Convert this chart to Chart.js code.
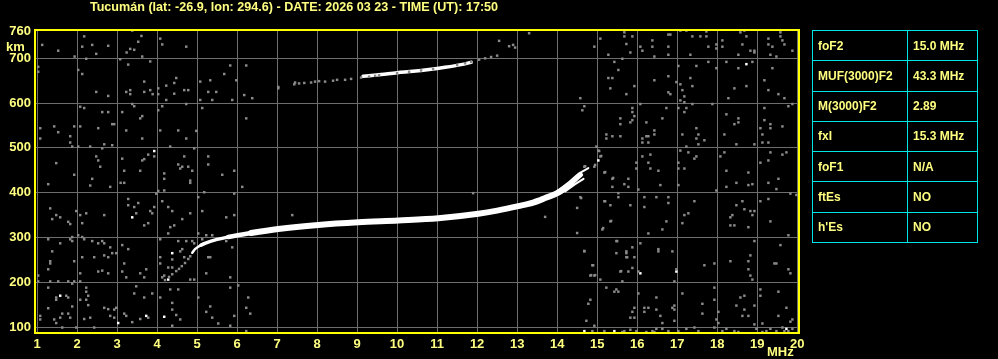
<!DOCTYPE html>
<html>
<head>
<meta charset="utf-8">
<script src="https://cdn.jsdelivr.net/npm/chart.js@4.4.1/dist/chart.umd.min.js"></script>
<style>
  body { margin: 0; background: #000; }
  #wrap { position: relative; width: 998px; height: 359px; overflow: hidden; }
  #params { position: absolute; left: 812px; top: 30px; width: 166px; height: 213px;
    border-collapse: collapse; font: bold 12px "Liberation Sans", Arial, sans-serif; color: #ffff80; }
  #params td { border: 1px solid #00e6e6; padding: 0 0 0 5px; white-space: nowrap; }
  #params td:first-child { width: 89px; }
</style>
</head>
<body>
<div id="wrap">
  <canvas id="ionogram" width="998" height="359"></canvas>
  <table id="params"></table>
</div>
<script>
const titleText = 'Tucumán (lat: -26.9, lon: 294.6) - DATE: 2026 03 23 - TIME (UT): 17:50';
const xTicks = [1, 2, 3, 4, 5, 6, 7, 8, 9, 10, 11, 12, 13, 14, 15, 16, 17, 18, 19, 20];
const yTicks = [100, 200, 300, 400, 500, 600, 700, 760];

const paramNames = ['foF2', 'MUF(3000)F2', 'M(3000)F2', 'fxI', 'foF1', 'ftEs', "h'Es"];
const paramValues = ['15.0 MHz', '43.3 MHz', '2.89', '15.3 MHz', 'N/A', 'NO', 'NO'];

// F2 trace (MHz, km)
const traceFreq = [4.88, 4.95, 5.1, 5.35, 5.78, 6.35, 7.03, 8.03, 9.03, 10.03, 11.03, 12.03, 12.5, 13.03, 13.4, 13.7, 14.03, 14.35, 14.6];
const traceHeight = [266, 274, 283, 292, 301, 310, 319, 328, 334, 338, 343, 353, 360, 370, 378, 388, 400, 420, 440];
const branchA = [[14.0, 404], [14.3, 424], [14.55, 443], [14.78, 455]];
const branchB = [[14.2, 403], [14.45, 419], [14.66, 431]];
const traceTail = [[4.2, 205], [4.3, 212], [4.38, 218], [4.48, 225], [4.55, 230], [4.62, 236], [4.7, 243], [4.78, 252], [4.83, 258]];

// second hop
const hopWhiteFreq = [9.15, 9.6, 10.0, 10.4, 10.8, 11.2, 11.6, 11.85];
const hopWhiteHeight = [660, 664, 668, 671, 675, 680, 686, 691];
const hopGray = [[7.03, 636], [7.45, 646], [7.55, 644], [7.68, 645], [7.85, 646], [7.95, 648], [8.05, 649], [8.2, 648],
  [8.4, 650], [8.5, 652], [8.7, 652], [8.85, 654], [9.1, 657], [9.3, 659], [9.45, 661], [9.55, 662], [10.0, 667],
  [10.3, 670], [10.6, 673], [10.9, 676], [11.5, 685], [11.7, 689], [11.85, 692], [12.05, 697], [12.2, 700],
  [12.35, 703], [12.5, 706], [12.55, 739], [12.8, 727], [12.9, 730], [12.95, 724], [13.3, 756]];

// background echoes
const noiseGray = [
  [2.18, 749], [1.13, 730], [1.53, 717], [2.13, 726], [2.38, 730], [2.78, 728], [2.48, 710], [1.94, 704], [2.23, 699],
  [3.38, 762], [3.61, 750], [3.53, 737], [3.43, 719], [3.33, 721], [3.24, 713], [3.63, 704], [4.08, 744], [4.13, 731],
  [4.73, 726], [3.08, 698], [3.28, 686], [3.83, 693], [1.03, 681], [1.03, 670], [2.03, 674], [2.13, 665], [2.48, 625],
  [2.78, 616], [3.23, 625], [3.33, 629], [3.33, 620], [3.68, 648], [3.68, 625], [3.83, 629], [3.89, 620], [4.03, 633],
  [4.03, 620], [4.23, 639], [4.43, 645], [4.48, 656], [4.43, 621], [4.68, 629], [4.78, 629], [5.08, 648], [5.33, 651],
  [5.68, 665], [5.83, 684], [6.23, 684], [5.98, 651], [5.28, 625], [5.48, 625], [5.08, 607], [5.38, 607], [5.88, 607],
  [6.18, 618], [6.38, 611], [7.03, 633], [7.43, 642], [4.23, 607], [3.38, 598], [3.43, 593], [4.03, 584], [4.13, 593],
  [4.73, 598], [5.13, 589], [2.08, 592], [2.18, 589], [2.63, 580], [2.78, 580], [3.13, 580], [3.63, 571], [3.58, 566],
  [6.23, 566], [1.08, 544], [1.43, 548], [1.53, 535], [1.93, 548], [2.08, 548], [2.53, 544], [2.88, 553], [2.93, 553],
  [3.23, 539], [4.08, 539], [4.53, 539], [4.98, 538], [1.83, 526], [1.83, 512], [1.08, 521], [3.63, 521], [4.73, 521],
  [1.88, 503], [2.03, 503], [2.33, 503], [2.63, 499], [2.68, 508], [2.88, 506], [4.33, 503], [4.93, 499], [3.93, 481],
  [3.78, 485], [3.68, 475], [3.63, 472], [2.48, 481], [2.53, 472], [3.13, 476], [2.58, 458], [1.48, 466], [1.93, 440],
  [2.38, 431], [3.18, 449], [3.58, 449], [4.18, 443], [4.18, 431], [4.53, 463], [4.68, 481], [4.58, 454], [4.63, 458],
  [4.78, 458], [4.88, 449], [5.28, 481], [5.28, 463], [5.63, 440], [5.93, 449], [4.83, 427],
  [1.28, 419], [2.33, 416], [2.83, 413], [3.09, 422], [3.18, 422], [4.83, 422], [4.03, 404], [4.18, 405], [5.18, 401],
  [6.13, 413], [1.33, 365], [1.48, 350], [1.58, 345], [1.38, 341], [1.78, 335], [1.83, 330], [1.98, 359], [2.08, 350],
  [2.23, 354], [2.13, 332], [2.68, 350], [3.28, 386], [3.28, 372], [3.43, 368], [3.48, 354], [3.53, 377], [3.68, 327],
  [3.78, 332], [3.83, 359], [3.88, 354], [3.93, 368], [3.98, 398], [4.13, 381], [4.28, 368], [4.38, 359], [4.43, 327],
  [4.33, 323], [4.28, 309], [4.63, 341], [4.83, 354], [5.13, 359], [5.03, 390], [5.93, 398], [5.73, 345], [5.93, 350],
  [2.03, 305], [1.88, 301], [2.13, 301], [2.18, 296], [1.28, 296], [1.58, 287], [1.83, 296], [1.88, 292], [2.38, 292],
  [2.53, 287], [2.63, 292], [2.68, 287], [2.83, 278], [2.88, 265], [1.38, 269], [1.33, 247], [1.33, 242], [1.93, 247],
  [2.13, 256], [2.43, 256], [2.68, 260], [2.78, 256], [2.98, 265], [3.13, 283], [3.28, 274], [3.18, 242], [1.03, 215],
  [1.28, 229], [2.08, 220], [2.53, 224], [2.63, 226], [2.78, 220], [3.13, 224], [3.23, 211], [3.58, 220], [3.68, 211],
  [3.73, 229], [4.13, 211], [4.38, 251], [4.08, 242], [4.08, 256], [4.08, 296], [4.53, 292], [4.58, 269], [4.63, 274],
  [4.68, 256], [4.73, 292], [4.88, 292], [4.93, 287], [5.13, 296], [5.23, 305], [5.38, 305], [5.03, 309], [5.28, 256],
  [5.33, 256], [5.23, 220], [5.83, 211], [5.88, 278], [5.73, 292], [4.18, 215], [4.38, 233], [4.28, 233], [4.83, 206],
  [4.93, 206], [1.03, 202], [1.33, 202], [1.53, 202], [1.78, 202], [1.88, 197], [1.93, 202], [2.08, 202], [2.23, 188],
  [2.23, 179], [2.23, 161], [2.28, 170], [2.28, 149], [2.08, 161], [1.88, 146], [1.78, 166], [1.73, 170], [1.48, 166],
  [1.48, 161], [1.28, 188], [1.08, 125], [1.08, 117], [1.28, 142], [1.43, 117], [1.58, 121], [1.63, 130], [1.48, 109],
  [1.63, 99], [1.78, 130], [1.83, 121], [1.98, 99], [2.18, 118], [2.33, 121], [2.43, 99], [2.68, 143], [2.78, 140],
  [2.83, 125], [2.93, 139], [2.93, 121], [2.98, 143], [3.18, 130], [3.23, 125], [3.38, 111], [3.43, 175], [3.48, 191],
  [3.68, 166], [3.88, 175], [4.08, 166], [4.33, 184], [4.38, 154], [4.38, 139], [4.48, 127], [4.53, 184], [4.38, 103],
  [4.58, 117], [3.58, 118], [3.78, 121], [5.03, 166], [5.23, 134], [5.33, 146], [5.38, 121], [5.53, 108], [5.83, 103],
  [5.93, 125], [6.03, 193], [5.83, 188], [6.28, 166], [6.23, 143], [6.33, 130], [6.23, 91], [7.38, 350],
  [11.9, 399], [13.7, 346], [14.5, 310], [14.5, 366], [14.6, 388], [14.7, 459], [14.95, 462], [15.1, 482], [15.15, 321],
  [15.2, 446], [15.35, 337], [15.2, 381], [15.4, 433], [15.53, 399], [15.5, 292], [14.68, 270], [14.9, 238], [14.85, 216],
  [14.95, 216], [15.6, 225], [15.75, 256], [15.05, 493],
  [15.68, 758], [15.68, 749], [15.88, 749], [15.08, 744], [14.93, 726], [15.73, 732], [15.83, 713], [15.28, 708],
  [16.08, 726], [16.13, 717], [16.38, 740], [16.38, 726], [16.78, 753], [16.83, 753], [16.78, 726], [16.78, 708],
  [16.43, 704], [17.08, 762], [17.23, 762], [17.38, 749], [17.58, 749], [17.73, 760], [17.73, 749], [17.78, 726],
  [17.33, 708], [17.98, 731], [17.98, 722], [18.13, 740], [18.13, 726], [18.58, 758], [18.68, 762], [18.73, 749],
  [18.63, 731], [18.53, 708], [18.83, 717], [18.93, 717], [18.93, 713], [19.28, 744], [19.28, 731], [19.38, 726],
  [19.58, 758], [19.58, 749], [19.63, 740], [19.68, 731], [19.88, 717], [19.33, 708], [19.48, 704], [15.43, 692],
  [15.63, 699], [15.53, 674], [15.28, 656], [15.38, 656], [15.33, 633], [15.73, 620], [15.93, 638], [16.43, 651],
  [16.78, 660], [16.98, 647], [17.03, 683], [17.08, 642], [17.13, 629], [17.08, 606], [16.78, 624], [16.83, 620],
  [17.18, 615], [17.18, 602], [17.33, 656], [17.38, 638], [17.48, 683], [17.78, 692], [17.98, 678], [18.23, 692],
  [18.53, 678], [18.88, 692], [18.73, 638], [18.43, 633], [18.28, 611], [19.18, 651], [19.28, 629], [19.53, 620],
  [19.68, 611], [19.38, 678], [14.58, 611], [14.63, 584], [14.68, 593], [15.88, 589], [15.88, 580], [15.93, 571],
  [15.58, 566], [15.58, 553], [15.88, 562], [15.83, 557], [16.23, 557], [16.63, 566], [16.73, 589], [16.08, 598],
  [17.03, 589], [17.23, 589], [17.18, 580], [17.38, 598], [17.88, 598], [18.23, 575], [18.53, 566], [18.53, 557],
  [18.43, 553], [19.18, 589], [19.18, 562], [19.33, 553], [19.33, 544], [19.63, 548], [19.78, 593], [19.88, 598],
  [15.23, 530], [15.23, 521], [15.38, 526], [15.58, 526], [16.13, 521], [16.13, 512], [16.23, 526], [16.28, 526],
  [16.43, 539], [16.43, 530], [16.28, 512], [17.13, 530], [17.48, 544], [17.48, 521], [17.53, 530], [17.53, 508],
  [17.68, 517], [18.18, 530], [18.48, 508], [19.08, 544], [19.13, 530], [19.13, 512], [19.28, 512], [18.93, 508],
  [14.98, 503], [15.03, 494], [15.08, 481], [14.68, 458], [14.93, 458], [15.18, 445], [15.38, 431], [15.78, 431],
  [15.98, 467], [15.98, 454], [16.13, 481], [16.33, 485], [16.28, 467], [16.33, 454], [16.53, 449], [17.03, 467],
  [17.03, 454], [17.18, 454], [17.08, 494], [17.23, 503], [17.28, 490], [17.43, 476], [17.48, 481], [18.08, 481],
  [18.18, 490], [18.23, 449], [18.78, 445], [19.08, 467], [19.28, 472], [19.33, 490], [19.63, 485], [19.73, 490],
  [19.53, 431],
  [15.68, 419], [15.78, 413], [15.38, 413], [16.03, 407], [16.58, 417], [17.03, 417], [17.98, 405], [18.23, 413],
  [18.48, 422], [18.78, 417], [18.88, 419], [19.28, 422], [19.48, 408], [14.58, 390], [15.18, 381], [15.33, 372],
  [15.53, 390], [15.83, 372], [16.18, 390], [16.18, 368], [16.48, 390], [16.78, 390], [16.78, 377], [17.43, 381],
  [17.18, 350], [17.28, 354], [17.13, 332], [16.73, 336], [16.63, 318], [16.28, 309], [15.33, 336], [15.13, 318],
  [18.48, 372], [18.63, 381], [18.68, 363], [18.83, 359], [18.88, 350], [18.93, 359], [18.38, 350], [18.33, 345],
  [18.33, 327], [18.43, 327], [18.78, 323], [19.08, 381], [19.28, 386], [19.33, 336], [19.78, 305], [19.98, 395],
  [19.83, 398], [14.68, 269], [14.88, 238], [14.83, 215], [14.93, 215], [15.08, 206], [15.48, 292], [15.48, 265],
  [15.73, 269], [15.73, 265], [15.73, 256], [15.88, 278], [15.93, 256], [15.88, 232], [15.78, 224], [15.58, 224],
  [15.63, 202], [16.08, 287], [16.03, 224], [16.53, 274], [16.53, 269], [16.88, 269], [16.98, 229], [16.93, 202],
  [17.68, 238], [17.93, 242], [18.33, 247], [18.78, 247], [18.78, 229], [18.83, 215], [18.88, 206], [18.83, 260],
  [18.93, 292], [19.43, 242], [19.48, 242], [19.58, 283], [19.78, 229], [19.83, 220], [15.23, 188], [15.43, 179],
  [15.48, 184], [15.53, 179], [14.83, 161], [14.78, 152], [16.03, 175], [15.93, 143], [15.88, 134], [15.83, 121],
  [15.93, 121], [16.18, 143], [16.18, 134], [16.28, 143], [16.48, 166], [16.48, 139], [16.58, 125], [16.88, 143],
  [16.93, 148], [16.93, 139], [17.13, 175], [17.23, 96], [17.63, 152], [17.63, 130], [17.93, 188], [17.93, 161],
  [18.03, 134], [17.98, 117], [18.03, 109], [18.58, 166], [18.68, 170], [18.48, 148], [18.68, 139], [18.63, 125],
  [18.78, 125], [18.93, 148], [19.08, 184], [19.08, 170], [19.53, 179], [19.73, 143], [19.53, 125], [19.83, 112],
  [19.88, 117], [19.13, 108], [14.73, 114], [14.93, 103], [14.88, 91], [15.18, 91], [15.68, 91], [15.63, 89],
  [15.83, 94], [15.98, 91], [16.23, 89], [16.38, 91], [16.43, 89], [16.48, 96], [16.63, 109], [16.63, 96], [16.78, 91],
  [16.93, 114], [17.03, 91], [17.43, 99], [17.53, 91], [17.93, 99], [18.13, 91], [18.23, 96], [18.43, 91], [18.53, 89],
  [18.93, 106], [18.98, 96], [19.13, 89], [19.23, 91], [19.33, 96], [19.48, 91], [19.63, 99], [19.68, 91], [19.78, 91],
  [19.88, 96]
];
const noiseWhite = [[3.93, 493], [3.38, 345], [4.38, 265], [4.28, 206], [1.58, 170], [3.03, 109], [4.18, 123], [3.73, 125],
  [18.73, 687], [15.03, 472], [16.08, 220], [16.98, 224], [14.68, 91], [15.43, 91], [19.73, 96]];

const gridGray = '#6e6e6e';
const dotGray = '#8a8a8a';
const labelYellow = '#ffff80';
const fontFamily = '"Liberation Sans", Arial, sans-serif';

const pairs = arr => arr.map(p => ({ x: p[0], y: p[1] }));

// param table
const table = document.getElementById('params');
paramNames.forEach(function (name, i) {
  const tr = document.createElement('tr');
  const a = document.createElement('td');
  const b = document.createElement('td');
  a.textContent = name;
  b.textContent = paramValues[i];
  tr.appendChild(a);
  tr.appendChild(b);
  table.appendChild(tr);
});

function dots(data, color) {
  return {
    type: 'scatter', data: pairs(data), pointStyle: 'rect', pointRadius: 1.75,
    backgroundColor: color, borderWidth: 0
  };
}

function trace(data, width) {
  return {
    type: 'line', data: data, borderColor: '#fff', borderWidth: width, pointRadius: 0,
    cubicInterpolationMode: 'monotone', borderCapStyle: 'round', borderJoinStyle: 'round', fill: false
  };
}

// trace gets thicker once the echo is strong
function traceWidth(c) {
  const f = c.p0.parsed.x;
  if (f < 5.0) return 2.5;
  if (f < 5.4) return 3.5;
  if (f < 5.9) return 4.5;
  if (f > 14.2) return 4;
  return 6;
}

// title, unit labels and the yellow frame
const decorations = {
  id: 'decorations',
  afterDraw(chart) {
    const ctx = chart.ctx;
    const a = chart.chartArea;
    ctx.save();
    ctx.fillStyle = labelYellow;
    ctx.font = 'bold 12.6px ' + fontFamily;
    ctx.textAlign = 'center';
    ctx.textBaseline = 'alphabetic';
    ctx.fillText(titleText, 294, 11);
    ctx.font = 'bold 13px ' + fontFamily;
    ctx.textAlign = 'left';
    ctx.fillText('km', 6, 51);
    ctx.fillText('MHz', 767, 356);
    ctx.fillStyle = '#ffff00';
    ctx.fillRect(a.left - 2, a.top - 2, a.right - a.left + 3, 2);
    ctx.fillRect(a.left - 2, a.bottom, a.right - a.left + 3, 2);
    ctx.fillRect(a.left - 2, a.top - 2, 2, a.bottom - a.top + 4);
    ctx.fillRect(a.right, a.top - 2, 2, a.bottom - a.top + 4);
    ctx.restore();
  }
};

new Chart(document.getElementById('ionogram'), {
  data: {
    datasets: [
      dots(noiseGray, dotGray),
      dots(traceTail, dotGray),
      dots(hopGray, dotGray),
      dots(noiseWhite, '#fff'),
      trace(hopWhiteFreq.map((f, i) => ({ x: f, y: hopWhiteHeight[i] })), 3.5),
      Object.assign(trace(traceFreq.map((f, i) => ({ x: f, y: traceHeight[i] })), 6), {
        segment: { borderWidth: traceWidth }
      }),
      trace(pairs(branchA), 2),
      trace(pairs(branchB), 2)
    ]
  },
  options: {
    responsive: false,
    animation: false,
    events: [],
    layout: { padding: { left: 0, top: 31, right: 200, bottom: 0 } },
    plugins: { legend: { display: false }, tooltip: { enabled: false } },
    scales: {
      x: {
        type: 'linear', min: 0.975, max: 20.02,
        afterBuildTicks: s => { s.ticks = xTicks.map(v => ({ value: v })); },
        afterFit: s => { s.height = 27; },
        grid: { color: gridGray, lineWidth: 1, drawTicks: false, tickLength: 0 },
        border: { display: false },
        ticks: { color: labelYellow, padding: 5, maxRotation: 0, autoSkip: false,
          font: { family: fontFamily, size: 13, weight: 'bold' } }
      },
      y: {
        type: 'linear', min: 89, max: 761,
        afterBuildTicks: s => { s.ticks = yTicks.map(v => ({ value: v })); },
        afterFit: s => { s.width = 36; },
        grid: { color: c => (c.tick && c.tick.value === 760) ? 'rgba(0,0,0,0)' : gridGray,
          lineWidth: 1, drawTicks: false, tickLength: 0 },
        border: { display: false },
        ticks: { color: labelYellow, padding: 5, autoSkip: false,
          font: { family: fontFamily, size: 13, weight: 'bold' } }
      }
    }
  },
  plugins: [decorations]
});
</script>
</body>
</html>
